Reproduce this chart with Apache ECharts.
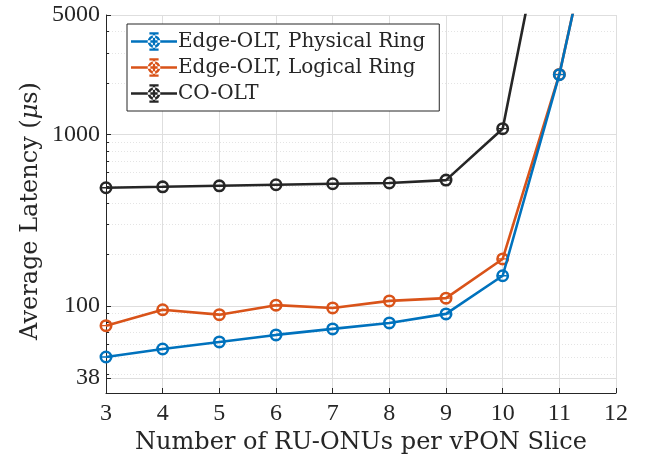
<!DOCTYPE html>
<html><head><meta charset="utf-8">
<script src="https://cdn.jsdelivr.net/npm/echarts@6/dist/echarts.min.js"></script>
<style>html,body{margin:0;padding:0;background:#fff}#c{width:647px;height:466px}</style>
</head><body><div id="c"></div>
<script>
const xValues = [3, 4, 5, 6, 7, 8, 9, 10, 11, 12];
const physicalRing = [50.3, 56, 61.6, 67.7, 73.4, 79.5, 89.8, 150, 2240, 72000];
const logicalRing = [76.7, 95, 88.9, 101, 97.3, 107, 111, 188, 2250, 72000];
const coOlt = [490, 496, 503, 510, 517, 522, 543, 1084, 50000];
const yTickLabels = [38, 100, 1000, 5000];
const yMinorTicks = [40, 50, 60, 70, 80, 90, 200, 300, 400, 500, 600, 700, 800, 900, 2000, 3000, 4000];
const seriesNames = ['Edge-OLT, Physical Ring', 'Edge-OLT, Logical Ring', 'CO-OLT'];
const colors = ['#0072BD', '#D95319', '#262626'];

const NUMFONT = 'Liberation Serif';
const TXTFONT = 'DejaVu Serif';
const legendIcon = 'path://M0,9 L40,9 L40,11 L0,11 Z M19,2 L21,2 L21,18 L19,18 Z M16,2 L24,2 L24,4 L16,4 Z M16,16 L24,16 L24,18 L16,18 Z M14.5,10 A5.5,5.5 0 1,0 25.5,10 A5.5,5.5 0 1,0 14.5,10 Z M16.8,10 A3.2,3.2 0 1,1 23.2,10 A3.2,3.2 0 1,1 16.8,10 Z';
const markerPath = 'path://M0,10 A10,10 0 1,0 20,10 A10,10 0 1,0 0,10 Z M4,10 A6,6 0 1,1 16,10 A6,6 0 1,1 4,10 Z M4,9 L16,9 L16,11 L4,11 Z';

const allSeries = [physicalRing, logicalRing, coOlt].map((vals, i) => ({
  name: seriesNames[i],
  type: 'line',
  data: vals.map((v, j) => [xValues[j], v]),
  symbol: markerPath,
  symbolSize: 13,
  showAllSymbol: true,
  lineStyle: { width: 2.6, color: colors[i] },
  itemStyle: { color: colors[i] },
  clip: true,
  z: 10 - i
}));

const chart = echarts.init(document.getElementById('c'), null, { renderer: 'canvas' });
chart.setOption({
  animation: false,
  backgroundColor: '#fff',
  grid: { left: 106, right: 31, top: 15, bottom: 73 },
  graphic: [{
    type: 'text',
    rotation: Math.PI / 2,
    x: 31, y: 211,
    style: {
      text: '{a|Average Latency (}{i|μ}{a|s)}',
      align: 'center', verticalAlign: 'middle',
      rich: {
        a: { fontFamily: TXTFONT, fontSize: 24, fill: '#262626' },
        i: { fontFamily: TXTFONT, fontSize: 24, fill: '#262626', fontStyle: 'italic' }
      }
    }
  }],
  legend: {
    data: seriesNames,
    orient: 'vertical',
    left: 127, top: 24,
    icon: legendIcon,
    itemWidth: 46, itemHeight: 22,
    itemGap: 5,
    padding: [7, 14, 7, 4],
    borderColor: '#262626', borderWidth: 1,
    backgroundColor: '#fff',
    textStyle: { fontFamily: TXTFONT, fontSize: 20, color: '#262626', padding: [0, 0, 0, -4], lineHeight: 21 }
  },
  xAxis: {
    type: 'value', min: 3, max: 12, interval: 1,
    name: 'Number of RU-ONUs per vPON Slice',
    nameLocation: 'middle', nameGap: 38,
    nameTextStyle: { fontFamily: TXTFONT, fontSize: 24, color: '#262626' },
    axisLine: { onZero: false, lineStyle: { color: '#262626', width: 1 } },
    axisTick: { inside: true, length: 5, lineStyle: { color: '#262626' } },
    axisLabel: { fontFamily: NUMFONT, fontSize: 24, color: '#262626', margin: 9 },
    splitLine: { show: true, lineStyle: { color: '#dedede', width: 1 } }
  },
  yAxis: [{
    type: 'log', min: 31, max: 5000, logBase: 10,
    axisLine: { show: true, lineStyle: { color: '#262626', width: 1 } },
    axisTick: { show: true, inside: true, length: 5, customValues: yTickLabels, lineStyle: { color: '#262626' } },
    axisLabel: { customValues: yTickLabels, fontFamily: NUMFONT, fontSize: 24, color: '#262626', margin: 6, formatter: v => String(Math.round(v)) },
    splitLine: { show: true, lineStyle: { color: '#dedede', width: 1 } }
  }, {
    type: 'log', min: 31, max: 5000, logBase: 10, position: 'left',
    axisLine: { show: false },
    axisTick: { show: true, inside: true, length: 3, customValues: yMinorTicks, lineStyle: { color: '#262626' } },
    axisLabel: { show: false, customValues: yMinorTicks },
    splitLine: { show: true, lineStyle: { color: '#e4e4e4', width: 1, type: [1, 2] } }
  }],
  series: allSeries
});
</script></body></html>
